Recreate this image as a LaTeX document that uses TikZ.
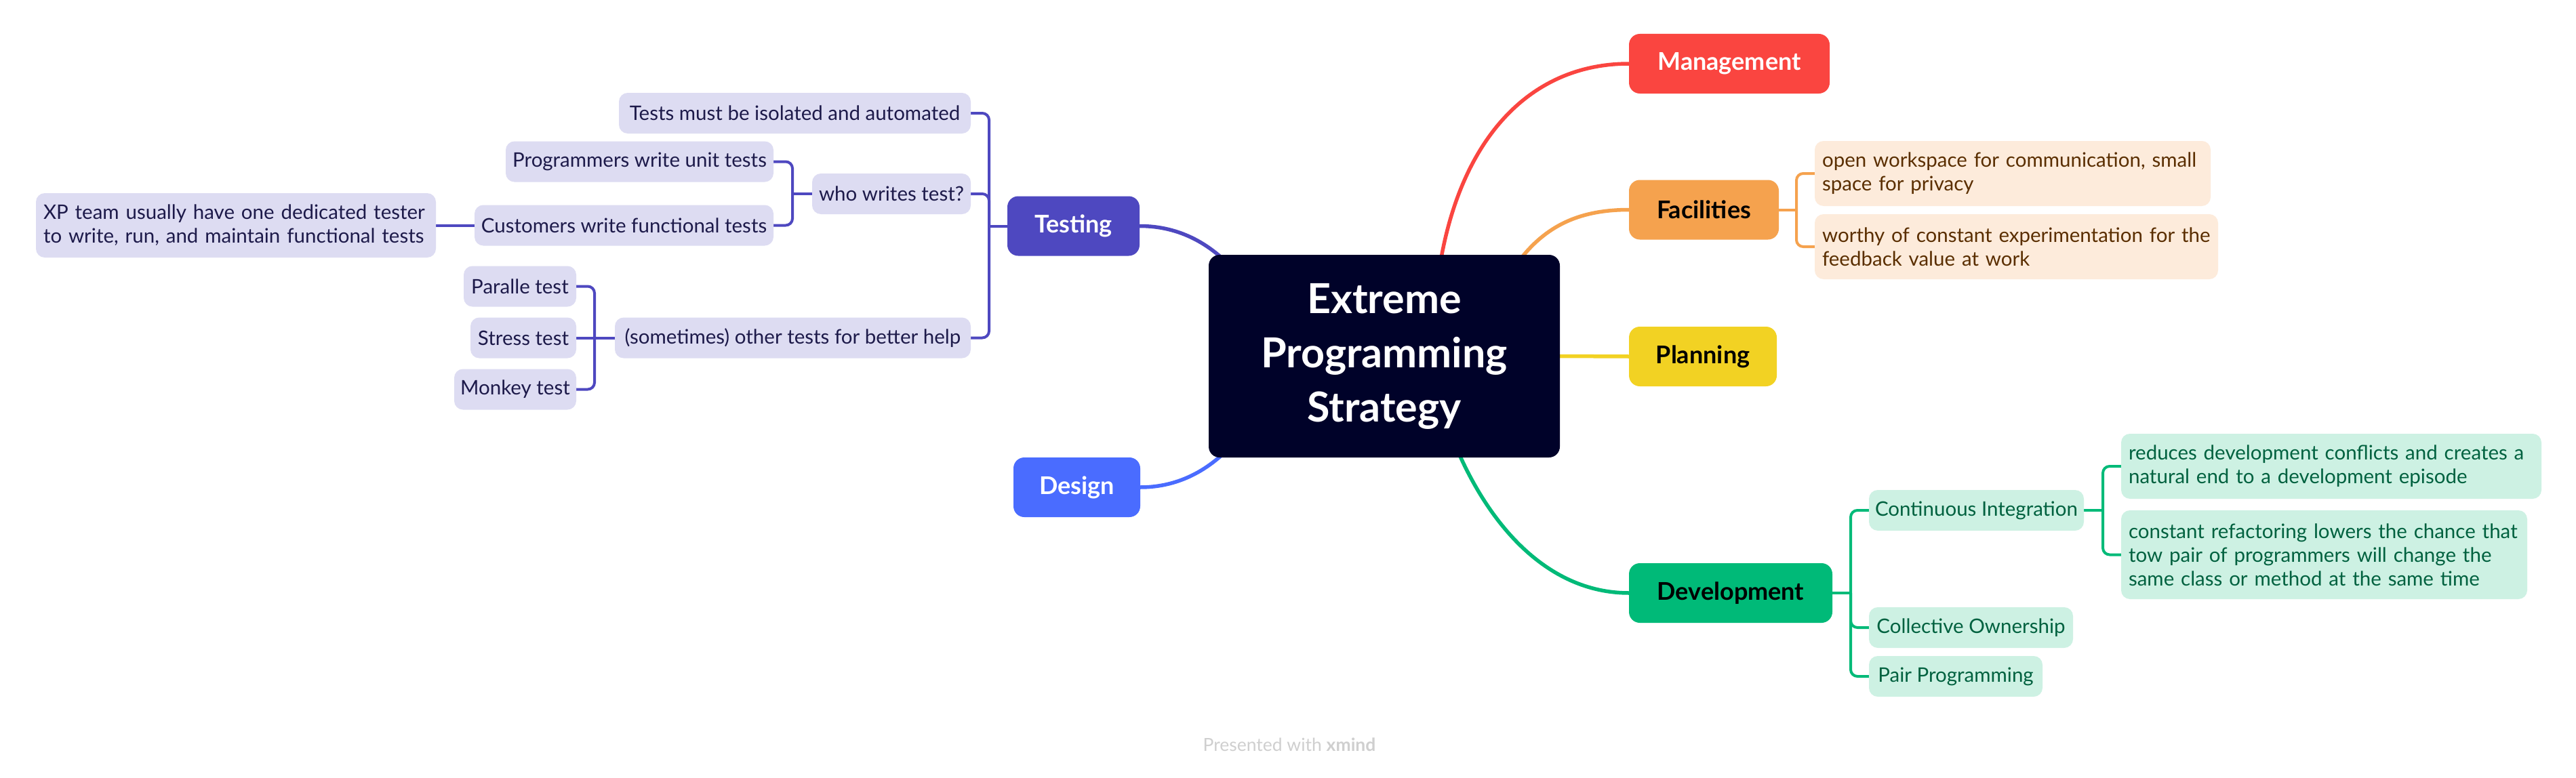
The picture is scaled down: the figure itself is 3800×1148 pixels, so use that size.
\documentclass[tikz,border=0pt]{standalone}
\usepackage{fontspec}
\setmainfont{Lato}
\usetikzlibrary{calc}
\definecolor{cRoot}{HTML}{000229}
\definecolor{cTest}{HTML}{4E48C0}
\definecolor{cDes}{HTML}{4A6CFF}
\definecolor{cMan}{HTML}{FA4540}
\definecolor{cFac}{HTML}{F5A24E}
\definecolor{cPlan}{HTML}{F2D223}
\definecolor{cDev}{HTML}{00BA78}
\definecolor{cTsub}{HTML}{DDDCF2}
\definecolor{cTtxt}{HTML}{1D1A4A}
\definecolor{cFsub}{HTML}{FDEBDB}
\definecolor{cFtxt}{HTML}{5A2E00}
\definecolor{cDsub}{HTML}{CDF1E3}
\definecolor{cDtxt}{HTML}{00613F}
\definecolor{cFoot}{HTML}{CFCFCF}
\pgfdeclarelayer{paper}
\pgfdeclarelayer{bg}
\pgfsetlayers{paper,bg,main}
\newcommand{\oneline}[1]{\mbox{#1}}
\begin{document}
\begin{tikzpicture}[x=1pt,y=-1pt,
  every node/.style={inner sep=0pt, outer sep=0pt},
  rootbox/.style={fill=cRoot, rounded corners=16pt, minimum width=518pt, minimum height=299pt,
     text=white, align=center, font=\fontsize{61}{80}\selectfont\bfseries},
  branchbox/.style={rounded corners=16pt, minimum height=88pt, font=\fontsize{36}{42}\selectfont\bfseries},
  subbox/.style={rounded corners=13pt, minimum height=60pt, font=\fontsize{29.5}{35}\selectfont},
  tsub/.style={subbox, fill=cTsub, text=cTtxt},
  fsub/.style={subbox, fill=cFsub, text=cFtxt},
  dsub/.style={subbox, fill=cDsub, text=cDtxt},
  multi/.style={align=left, inner xsep=11pt},
  maincurve/.style={line width=5.5pt},
  subline/.style={line width=4pt, rounded corners=10pt},
]
\useasboundingbox (0,0) rectangle (3800,1148);
\begin{pgfonlayer}{paper}
\fill[white] (0,0) rectangle (3800,1148);
\end{pgfonlayer}

% root and main branches
\node[rootbox] (root) at (2042,525.5) {Extreme\\Programming\\Strategy};
\node[branchbox, fill=cTest, text=white, minimum width=195pt] (testing) at (1583.5,333.5) {Testing};
\node[branchbox, fill=cDes, text=white, minimum width=187pt] (design) at (1588.5,719) {Design};
\node[branchbox, fill=cMan, text=white, minimum width=296pt] (man) at (2551,94) {Management};
\node[branchbox, fill=cFac, text=black, minimum width=221pt] (fac) at (2513.5,309.5) {Facilities};
\node[branchbox, fill=cPlan, text=black, minimum width=218pt] (plan) at (2512,526) {Planning};
\node[branchbox, fill=cDev, text=black, minimum width=300pt] (dev) at (2553,875) {Development};

% facilities children
\node[fsub, multi, text width=562pt, minimum height=96pt] (fac1) at (2969,256)
  {\oneline{open workspace for communication, small}\\\oneline{space for privacy}};
\node[fsub, multi, text width=573pt, minimum height=96pt] (fac2) at (2974.5,364)
  {\oneline{worthy of constant experimentation for the}\\\oneline{feedback value at work}};

% development children
\node[dsub, minimum width=317pt] (ci) at (2915.5,753) {Continuous Integration};
\node[dsub, minimum width=301pt] (co) at (2907.5,926) {Collective Ownership};
\node[dsub, minimum width=256pt] (pp) at (2885,998) {Pair Programming};
\node[dsub, multi, text width=598pt, minimum height=96pt] (ci1) at (3439,688)
  {\oneline{reduces development conflicts and creates a}\\\oneline{natural end to a development episode}};
\node[dsub, multi, text width=577pt, minimum height=131pt] (ci2) at (3428.5,818.5)
  {\oneline{constant refactoring lowers the chance that}\\\oneline{tow pair of programmers will change the}\\\oneline{same class or method at the same time}};

% testing children
\node[tsub, minimum width=519pt] (tests) at (1172.5,167) {Tests must be isolated and automated};
\node[tsub, minimum width=234pt] (who) at (1315,286) {who writes test?};
\node[tsub, minimum width=525pt] (some) at (1169.5,498.5) {(sometimes) other tests for better help};
\node[tsub, minimum width=395pt] (prog) at (943.5,238.5) {Programmers write unit tests};
\node[tsub, minimum width=441pt] (cust) at (920.5,332.5) {Customers write functional tests};
\node[tsub, multi, text width=568pt, minimum height=95pt] (xp) at (348,332.5)
  {\oneline{XP team usually have one dedicated tester}\\\oneline{to write, run, and maintain functional tests}};
\node[tsub, minimum width=166pt] (par) at (767,422.5) {Paralle test};
\node[tsub, minimum width=156pt] (str) at (772,498.5) {Stress test};
\node[tsub, minimum width=180pt] (mon) at (760,574.5) {Monkey test};

% footer
\node[text=cFoot, font=\fontsize{26.5}{30}\selectfont, anchor=base] (foot) at (1902,1108)
  {Presented with \textbf{xmind}};

% bracket coordinates and curve ends
\coordinate (tB) at (1459,333.5);
\coordinate (wB) at (1169,286);
\coordinate (sB) at (877,498.5);
\coordinate (fB) at (2650,309.5);
\coordinate (dB) at (2730,875);
\coordinate (cB) at (3102,753);
\coordinate (eMan) at (2120,420);
\coordinate (eFac) at (2230,400);
\coordinate (eDev) at (2140,640);
\coordinate (eTest) at (1830,410);
\coordinate (eDes) at (1830,642);

\begin{pgfonlayer}{bg}
  \draw[maincurve, cMan] (man.west) .. controls (2250,94) and (2145,215) .. (eMan);
  \draw[maincurve, cFac] (fac.west) .. controls (2320,309.5) and (2270,340) .. (eFac);
  \draw[maincurve, cPlan] (root.east) -- (plan.west);
  \draw[maincurve, cDev] (dev.west) .. controls (2280,875) and (2190,770) .. (eDev);
  \draw[maincurve, cTest] (testing.east) .. controls (1740,333.5) and (1790,360) .. (eTest);
  \draw[maincurve, cDes] (design.east) .. controls (1740,719) and (1790,692) .. (eDes);

  % facilities bracket
  \draw[subline, cFac] (fac.east) -- (fB);
  \draw[subline, cFac] (fac1.west) -| (fB) |- (fac2.west);
  % development bracket
  \draw[subline, cDev] (dev.east) -- (dB);
  \draw[subline, cDev] (ci.west) -| (dB) |- (pp.west);
  \draw[subline, cDev] (co.west) -| (dB);
  \draw[subline, cDev] (ci.east) -- (cB);
  \draw[subline, cDev] (ci1.west) -| (cB) |- (ci2.west);
  % testing brackets
  \draw[subline, cTest] (testing.west) -- (tB);
  \draw[subline, cTest] (tests.east) -| (tB) |- (some.east);
  \draw[subline, cTest] (who.east) -| (tB);
  \draw[subline, cTest] (who.west) -- (wB);
  \draw[subline, cTest] (prog.east) -| (wB) |- (cust.east);
  \draw[subline, cTest] (cust.west) -- (xp.east);
  \draw[subline, cTest] (some.west) -- (sB);
  \draw[subline, cTest] (par.east) -| (sB) |- (mon.east);
  \draw[subline, cTest] (str.east) -- (sB);
\end{pgfonlayer}
\end{tikzpicture}
\end{document}
